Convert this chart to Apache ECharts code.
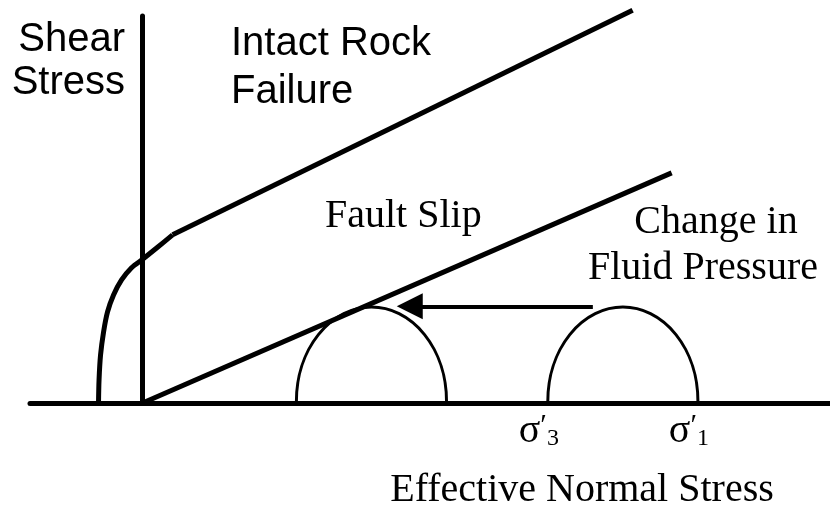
<!DOCTYPE html>
<html>
<head>
<meta charset="utf-8">
<script src="https://cdn.jsdelivr.net/npm/echarts@6/dist/echarts.min.js"></script>
<style>
html, body { margin: 0; padding: 0; background: #fff; }
#chart { width: 830px; height: 513px; }
</style>
</head>
<body>
<div id="chart"></div>
<script>
// schematic units: x = effective normal stress, y = shear stress
const faultSlip = [[0, 0], [70.5, 24.5]];
// curved part of the intact rock envelope
const intactCurve = [[-5.87, 0], [-5.8, 2.45], [-5.6, 5.1], [-5.2, 7.55], [-4.67, 9.7], [-3.87, 11.5], [-2.8, 13.1], [-1.47, 14.4], [0, 15.3], [1.87, 16.5], [4, 17.9]];
const intactLine = [[4, 17.9], [65.3, 41.8]];
// [sigma3', sigma1'] for the two Mohr circles
const mohrCircles = [[20.5, 40.5], [54, 74]];
const pressureArrow = [[60, 10.3], [35.6, 10.3]];
const sigmaTicks = [54, 74];
const sigmaSubs = ["3", "1"];

const serif = "'Liberation Serif', 'Times New Roman', serif";
const sans = "'Liberation Sans', Arial, sans-serif";

const chart = echarts.init(document.getElementById("chart"));

const blackLine = {
  type: "line",
  showSymbol: false,
  symbol: "none",
  clip: false,
  silent: true,
  lineStyle: { color: "#000", width: 5 },
};

let option = {
  animation: false,
  backgroundColor: "#fff",
  grid: { left: 30, right: 0, top: 16, bottom: 110 },
  xAxis: {
    type: "value",
    min: -15,
    max: 91.6,
    splitLine: { show: false },
    axisTick: { show: false },
    axisLine: { show: true, onZero: true, lineStyle: { color: "#000", width: 5 } },
    axisLabel: {
      customValues: sigmaTicks,
      margin: 8,
      padding: [0, 18, 0, 0],
      formatter: (value) => {
        const i = sigmaTicks.indexOf(value);
        return "{s|σ}{p|′}{sub|" + sigmaSubs[i] + "}";
      },
      rich: {
        s: { fontFamily: serif, fontSize: 40, color: "#000" },
        p: { fontFamily: serif, fontSize: 30, color: "#000", verticalAlign: "top" },
        sub: { fontFamily: serif, fontSize: 24, color: "#000", verticalAlign: "bottom" },
      },
    },
  },
  yAxis: {
    type: "value",
    min: 0,
    max: 41.2,
    splitLine: { show: false },
    axisTick: { show: false },
    axisLabel: { show: false },
    axisLine: { show: true, onZero: true, lineStyle: { color: "#000", width: 5 } },
  },
  series: [
    { ...blackLine, name: "Fault Slip", data: faultSlip },
    { ...blackLine, name: "Intact curve", data: intactCurve, smooth: 0.3 },
    { ...blackLine, name: "Intact Rock Failure", data: intactLine },
    {
      type: "custom",
      name: "Mohr circles",
      silent: true,
      clip: false,
      data: mohrCircles,
      renderItem: function (params, api) {
        const s3 = api.value(0);
        const s1 = api.value(1);
        const r = (s1 - s3) / 2;
        const a = api.coord([s3, 0]);
        const b = api.coord([s1, 0]);
        const rad = api.size([r, r]);
        return {
          type: "path",
          shape: {
            pathData: `M${a[0]} ${a[1] - 2} A${rad[0]} ${rad[1]} 0 0 1 ${b[0]} ${b[1] - 2}`,
          },
          style: { fill: "none", stroke: "#000", lineWidth: 3 },
        };
      },
    },
    {
      type: "lines",
      name: "Change in Fluid Pressure",
      coordinateSystem: "cartesian2d",
      silent: true,
      symbol: ["none", "triangle"],
      symbolSize: [28, 26],
      itemStyle: { color: "#000" },
      lineStyle: { color: "#000", width: 4, opacity: 1 },
      data: [{ coords: pressureArrow }],
    },
  ],
  graphic: [
    {
      type: "text", x: 125, y: 18,
      style: { text: "Shear\nStress", font: "40px " + sans, lineHeight: 43, fill: "#000", align: "right", verticalAlign: "top" },
    },
    {
      type: "text", x: 231, y: 20,
      style: { text: "Intact Rock\nFailure", font: "40px " + sans, lineHeight: 48, fill: "#000", align: "left", verticalAlign: "top" },
    },
    {
      type: "text", x: 325, y: 196,
      style: { text: "Fault Slip", font: "40px " + serif, fill: "#000", align: "left", verticalAlign: "top" },
    },
    {
      type: "text", x: 716, y: 202,
      style: { text: "Change in", font: "40px " + serif, fill: "#000", align: "center", verticalAlign: "top" },
    },
    {
      type: "text", x: 703, y: 248,
      style: { text: "Fluid Pressure", font: "40px " + serif, fill: "#000", align: "center", verticalAlign: "top" },
    },
    {
      type: "text", x: 582, y: 470,
      style: { text: "Effective Normal Stress", font: "40px " + serif, fill: "#000", align: "center", verticalAlign: "top" },
    },
  ],
};

chart.setOption(option);
window.addEventListener("resize", () => chart.resize());
</script>
</body>
</html>
